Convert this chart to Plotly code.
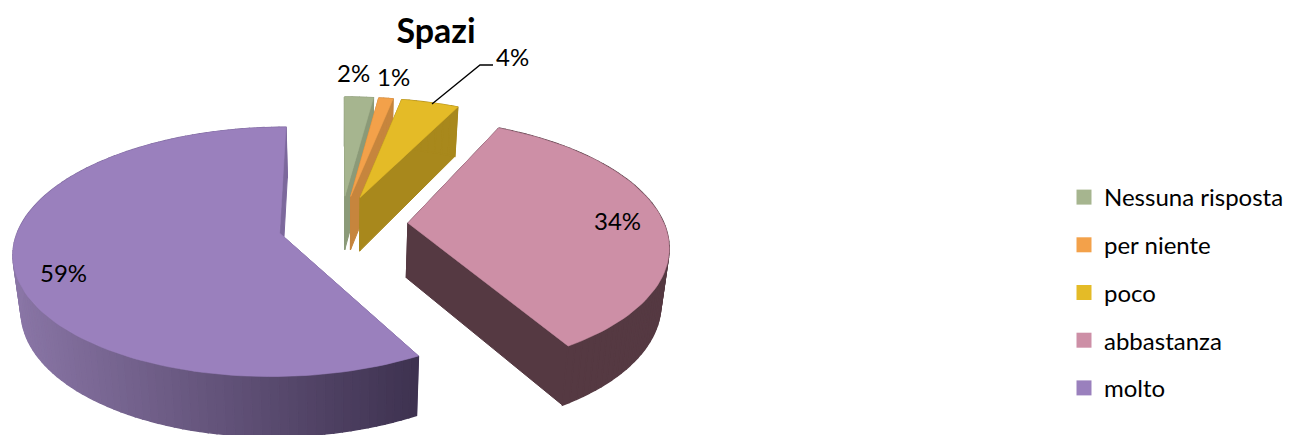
import math
import plotly.graph_objects as go

# ---- data ----
categories = ["Nessuna risposta", "per niente", "poco", "abbastanza", "molto"]
percent = [2, 1, 4, 34, 59]
tick_labels = ["2%", "1%", "4%", "34%", "59%"]

# ---- style ----
top_colors = ["#a6b58f", "#f3a14a", "#e4bb27", "#cd8fa6", "#9a80bd"]
side_colors = ["#8b9a78", "#c6853d", "#a8881c", "#553942", "#7c689c"]
WIDTH, HEIGHT = 1292, 435
CX, CY, B, A, K = 341, 231, 266, 124.6, 0.1225
EXPLODE = 0.24
APEX_LIFT = 0.05
# perspective fudge per slice: radius scale in U, in V, V offset, start-angle nudge (rad), apex shift
rim_u = [1, 1, 1, 0.985, 0.985]
rim_v = [1, 1, 1, 1, 0.975]
rim_off = [0, 0, 0, 0, -0.02]
nudge0 = [0, 0, 0, 0, 0.045]
apex_du = [0, 0, 0, 0.014, 0]
FONT = "Lato"


def top(U, V):
    w = 1 - K * V
    return CX + B * U / w, CY + A * V / w


def bottom(U, V):
    x, y = top(U, V)
    return CX + (x - CX) * 0.975, y + 55 + 5 * V


def mix(c1, c2, t):
    a = [int(c1[i:i + 2], 16) for i in (1, 3, 5)]
    b = [int(c2[i:i + 2], 16) for i in (1, 3, 5)]
    return "rgb(%d,%d,%d)" % tuple(round(p + (q - p) * t) for p, q in zip(a, b))


def poly(fig, pts, color, lw=1.0):
    xs = [p[0] for p in pts] + [pts[0][0]]
    ys = [p[1] for p in pts] + [pts[0][1]]
    fig.add_trace(go.Scatter(x=xs, y=ys, mode="lines", fill="toself", fillcolor=color,
                             line=dict(color=color, width=lw), hoverinfo="skip",
                             showlegend=False))


fig = go.Figure()
total = sum(percent)
start = 0.0
for i, v in enumerate(percent):
    a0 = start / total * 2 * math.pi
    a1 = (start + v) / total * 2 * math.pi
    start += v
    mid = (a0 + a1) / 2
    a0 += nudge0[i]
    cu, cv = EXPLODE * math.sin(mid), -EXPLODE * math.cos(mid)
    apex = (cu + apex_du[i], cv - APEX_LIFT)
    n = max(3, int(v * 2))
    angs = [a0 + (a1 - a0) * j / n for j in range(n + 1)]
    rim = [(cu + rim_u[i] * math.sin(a), cv + rim_off[i] - rim_v[i] * math.cos(a)) for a in angs]
    # radial faces
    for e in (rim[0], rim[-1]):
        poly(fig, [top(*apex), top(*e), bottom(*e), bottom(*apex)], side_colors[i])
    # outer wall
    for j in range(n):
        p, q = rim[j], rim[j + 1]
        if categories[i] == "molto" and p[1] > 0:
            t = (top(*p)[0] - 12) / (420 - 12)
            col = mix("#8a76a6", "#3e3250", max(0, min(1, t)))
        else:
            col = side_colors[i]
        poly(fig, [top(*p), top(*q), bottom(*q), bottom(*p)], col, 1.4)
    # top face
    poly(fig, [top(*apex)] + [top(*r) for r in rim], top_colors[i], 0.6)

# leader line of the small "poco" slice
fig.add_trace(go.Scatter(x=[432, 480, 493], y=[104, 65, 65], mode="lines",
                         line=dict(color="#000000", width=1.3), hoverinfo="skip",
                         showlegend=False))

# legend entries
for name, col in zip(categories, top_colors):
    fig.add_trace(go.Scatter(x=[None], y=[None], mode="markers", name=name, legendgroup=name,
                             marker=dict(symbol="square", size=15, color=col)))

label_xy = [(353, 72), (393, 76), (512, 56), (617, 220), (63, 272)]
for txt, (x, y) in zip(tick_labels, label_xy):
    fig.add_annotation(x=x, y=y, text=txt, showarrow=False,
                       font=dict(family=FONT, size=24, color="#000000"))

fig.update_layout(
    width=WIDTH, height=HEIGHT, autosize=False,
    margin=dict(l=0, r=0, t=0, b=0),
    paper_bgcolor="white", plot_bgcolor="white",
    title=dict(text="<b>Spazi</b>", x=436 / WIDTH, xanchor="center", y=1 - 31 / HEIGHT,
               yanchor="middle", font=dict(family=FONT, size=34, color="#000000")),
    xaxis=dict(range=[0, WIDTH], visible=False, fixedrange=True),
    yaxis=dict(range=[HEIGHT, 0], visible=False, fixedrange=True),
    legend=dict(x=1064 / WIDTH, xanchor="left", y=1 - 175 / HEIGHT, yanchor="top",
                tracegroupgap=13.5, font=dict(family=FONT, size=24, color="#000000"),
                bgcolor="rgba(0,0,0,0)", itemclick=False, itemdoubleclick=False),
    showlegend=True,
)
fig.write_html("out.html", config={"displayModeBar": False},
               post_script="document.body.style.margin='0';document.body.style.overflow='hidden';")
